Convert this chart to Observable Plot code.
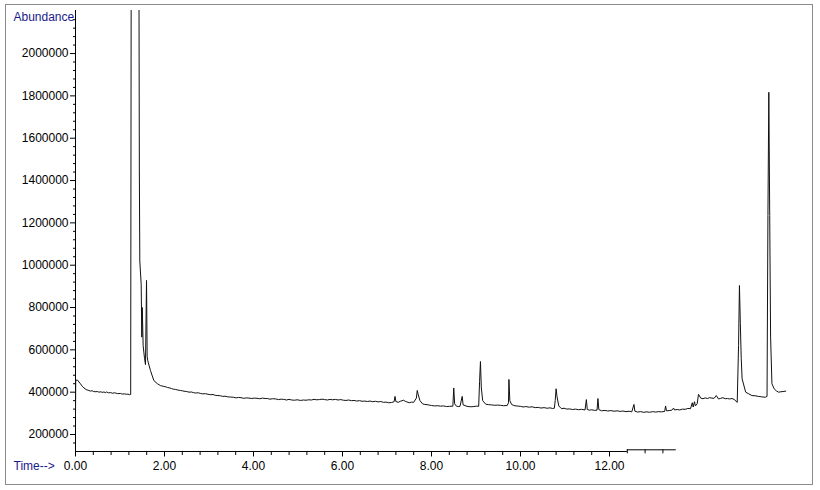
<!DOCTYPE html>
<html><head><meta charset="utf-8">
<script src="https://cdn.jsdelivr.net/npm/d3@7"></script>
<script src="https://cdn.jsdelivr.net/npm/@observablehq/plot@0.6"></script>
<style>
body{margin:0;background:#fff;}
#wrap{position:relative;width:820px;height:490px;overflow:hidden;background:#fff;}
#wrap svg{position:absolute;left:0;top:0;}
#border{position:absolute;left:5px;top:4px;width:806px;height:479px;border:1px solid #8a8a8a;pointer-events:none;}
</style></head><body><div id="wrap"><div id="border"></div></div>
<script>
// [retention time (min), abundance]; off-scale values are clipped at the top
const early = [
  [0.000, 285000], [0.005, 455000], [0.04, 458000], [0.08, 448000], [0.11, 440000], [0.15, 428000], [0.19, 420000],
  [0.24, 412000], [0.30, 408000], [0.34, 405000], [0.37, 407000], [0.40, 404000], [0.44, 402000], [0.49, 403000],
  [0.53, 400000], [0.57, 402000], [0.60, 399000], [0.64, 401000], [0.67, 398000], [0.70, 401000], [0.74, 397000],
  [0.79, 398000], [0.83, 395000], [0.87, 397000], [0.90, 396000], [0.95, 393000], [1.01, 394000], [1.05, 391000],
  [1.10, 392000], [1.14, 390000], [1.18, 391000], [1.21, 388000], [1.24, 389000]
];
const solvent = [
  [1.255, 3000000], [1.42, 3000000], [1.435, 1450000], [1.445, 1020000], [1.476, 910000], [1.49, 660000],
  [1.50, 800000], [1.52, 620000], [1.551, 560000], [1.573, 530000], [1.596, 928000], [1.61, 570000],
  [1.625, 548000], [1.685, 502000], [1.76, 455000], [1.84, 440000]
];
const baseline = [
  [1.91, 431000], [1.97, 428000], [2.03, 425000], [2.07, 422000], [2.12, 420000], [2.16, 417000], [2.20, 414000],
  [2.25, 413000], [2.30, 410000], [2.36, 408000], [2.41, 406000], [2.46, 404000], [2.50, 403000], [2.55, 400000],
  [2.60, 401000], [2.65, 398000], [2.70, 396000], [2.76, 397000], [2.81, 394000], [2.86, 392000], [2.92, 393000],
  [2.98, 390000], [3.04, 388000], [3.09, 389000], [3.14, 385000], [3.20, 384000], [3.26, 383000], [3.31, 380000],
  [3.36, 381000], [3.42, 378000], [3.48, 377000], [3.55, 376000], [3.61, 373000], [3.66, 375000], [3.72, 374000],
  [3.78, 371000], [3.84, 373000], [3.90, 372000], [3.96, 370000], [4.02, 372000], [4.08, 371000], [4.14, 369000],
  [4.20, 372000], [4.26, 370000], [4.31, 370000], [4.37, 367000], [4.43, 369000], [4.50, 368000], [4.56, 365000],
  [4.62, 367000], [4.68, 366000], [4.74, 363000], [4.80, 366000], [4.86, 363000], [4.92, 362000], [4.98, 364000],
  [5.06, 361000], [5.12, 363000], [5.18, 362000], [5.24, 364000], [5.30, 363000], [5.36, 366000], [5.42, 364000],
  [5.48, 365000], [5.54, 367000], [5.60, 365000], [5.66, 363000], [5.72, 366000], [5.78, 364000], [5.84, 366000],
  [5.90, 363000], [5.96, 365000], [6.02, 362000], [6.08, 361000], [6.14, 363000], [6.20, 360000], [6.26, 361000],
  [6.32, 358000], [6.38, 360000], [6.44, 357000], [6.50, 358000], [6.56, 356000], [6.62, 358000], [6.68, 355000],
  [6.74, 357000], [6.80, 354000], [6.86, 356000], [6.92, 352000], [6.98, 353000], [7.04, 350000], [7.10, 351000]
];
const middle = [
  [7.16, 355000], [7.18, 380000], [7.20, 356000], [7.25, 352000], [7.30, 357000], [7.37, 362000], [7.42, 356000],
  [7.50, 350000], [7.55, 353000], [7.60, 352000], [7.66, 372000], [7.68, 408000], [7.70, 390000], [7.74, 360000],
  [7.80, 345000], [7.85, 342000], [7.90, 341000], [7.95, 339000], [8.00, 337000], [8.07, 335000], [8.14, 336000],
  [8.20, 334000], [8.27, 335000], [8.34, 332000], [8.40, 333000], [8.48, 334000], [8.50, 420000], [8.52, 345000],
  [8.56, 334000], [8.60, 332000], [8.64, 333000], [8.69, 380000], [8.71, 340000], [8.80, 333000], [8.87, 331000],
  [8.95, 332000], [9.01, 334000], [9.06, 333000], [9.08, 450000], [9.10, 545000], [9.12, 420000], [9.15, 360000],
  [9.22, 343000], [9.28, 341000], [9.35, 340000], [9.42, 338000], [9.48, 339000], [9.55, 338000], [9.62, 336000],
  [9.70, 337000], [9.73, 350000], [9.74, 460000], [9.76, 360000], [9.80, 342000], [9.85, 337000], [9.90, 335000],
  [9.95, 334000]
];
const late = [
  [10.00, 333000], [10.06, 330000], [10.12, 332000], [10.20, 329000], [10.26, 331000], [10.33, 327000],
  [10.40, 328000], [10.46, 325000], [10.53, 327000], [10.60, 324000], [10.66, 326000], [10.72, 323000],
  [10.76, 324000], [10.78, 360000], [10.80, 416000], [10.82, 380000], [10.86, 335000], [10.92, 322000],
  [10.98, 324000], [11.04, 320000], [11.10, 321000], [11.17, 318000], [11.24, 320000], [11.30, 317000],
  [11.37, 319000], [11.45, 316000], [11.48, 365000], [11.50, 318000], [11.55, 315000], [11.60, 317000],
  [11.66, 314000], [11.72, 315000], [11.74, 370000], [11.76, 318000], [11.82, 312000], [11.90, 314000],
  [11.96, 311000], [12.03, 313000], [12.10, 310000], [12.17, 312000], [12.24, 309000], [12.30, 311000],
  [12.37, 308000], [12.44, 310000], [12.50, 307000], [12.55, 342000], [12.57, 310000], [12.63, 306000],
  [12.70, 308000], [12.77, 305000], [12.84, 307000], [12.90, 305000], [12.97, 308000], [13.04, 306000],
  [13.10, 308000], [13.17, 307000], [13.24, 309000], [13.26, 335000], [13.28, 312000], [13.34, 313000],
  [13.40, 315000], [13.44, 325000], [13.46, 316000], [13.52, 318000], [13.58, 316000], [13.64, 320000],
  [13.70, 319000], [13.76, 323000], [13.82, 322000], [13.86, 350000], [13.88, 330000], [13.91, 355000],
  [13.93, 335000], [13.97, 345000], [14.00, 390000]
];
const final = [
  [14.05, 372000], [14.10, 369000], [14.15, 373000], [14.20, 370000], [14.25, 374000], [14.30, 372000],
  [14.35, 371000], [14.40, 384000], [14.45, 368000], [14.50, 371000], [14.55, 374000], [14.60, 369000],
  [14.65, 370000], [14.70, 368000], [14.75, 370000], [14.80, 366000], [14.87, 352000], [14.90, 620000],
  [14.92, 904000], [14.94, 724000], [14.96, 560000], [14.98, 463000], [15.06, 400000], [15.13, 392000],
  [15.20, 384000], [15.27, 383000], [15.35, 380000], [15.42, 378000], [15.50, 376000], [15.54, 380000],
  [15.56, 1235000], [15.58, 1817000], [15.60, 1235000], [15.62, 660000], [15.65, 440000], [15.70, 416000],
  [15.75, 406000], [15.80, 400000], [15.85, 402000], [15.90, 403000], [15.96, 405000]
];
const data = [...early, ...solvent, ...baseline, ...middle, ...late, ...final].map(([t, a]) => ({t, a}));

const yMajor = [200000, 400000, 600000, 800000, 1000000, 1200000, 1400000, 1600000, 1800000, 2000000];
const yMinor = d3.range(160000, 2200001, 40000).filter(v => v % 200000 !== 0);
const xMajor = [0, 2, 4, 6, 8, 10, 12];
const xMinor = d3.range(0, 13.21, 0.4).filter(v => Math.abs(v / 2 - Math.round(v / 2)) > 1e-6);
const yTitle = "Abundance";
const xTitle = "Time-->";

const font = "'Liberation Sans', Arial, sans-serif";
const PX = 4725;                 // abundance units per pixel
const Y0 = 119700;               // level of the time axis line
const YBOT = Y0 - 9 * PX;        // frame extends below the axis so the ticks lie inside it
const YTOP = 2203400;
const Y1 = Y0 + 1.7 * PX;        // raised axis segment after 12.4 min

const chart = Plot.plot({
  width: 820,
  height: 490,
  marginLeft: 75,
  marginRight: 20,
  marginTop: 10,
  marginBottom: 30,
  style: {fontFamily: font, fontSize: "12px"},
  x: {domain: [0, 16.292]},
  y: {domain: [YBOT, YTOP]},
  marks: [
    Plot.axisY({ticks: yMajor, tickSize: 5, tickPadding: 2, tickFormat: d => String(d), label: null, fontSize: 12, stroke: "#000", fill: "#000"}),
    Plot.axisY({ticks: yMinor, tickSize: 2, tickFormat: () => "", label: null, stroke: "#000"}),
    Plot.axisX({ticks: [], label: null}),
    Plot.ruleX([0], {y1: Y0, y2: YTOP, stroke: "#000"}),
    Plot.ruleY([Y0], {x1: 0, x2: 12.4, stroke: "#000"}),
    Plot.ruleY([Y1], {x1: 12.4, x2: 13.5, stroke: "#000"}),
    Plot.ruleX(xMajor, {y1: Y0, y2: Y0 - 5.5 * PX, stroke: "#000"}),
    Plot.ruleX(xMinor.filter(d => d < 12.3), {y1: Y0, y2: Y0 - 4 * PX, stroke: "#000"}),
    Plot.ruleX(xMinor.filter(d => d > 12.3), {y1: Y1, y2: Y1 - 4 * PX, stroke: "#000"}),
    Plot.text(xMajor, {x: d => d, y: Y0 - 15 * PX, text: d3.format(".2f"), fill: "#000", fontSize: 12}),
    Plot.line(data, {x: "t", y: "a", stroke: "#111", strokeWidth: 1, clip: true}),
    Plot.text([yTitle], {frameAnchor: "top-left", dx: -62, dy: 2, textAnchor: "start", fill: "#1a1a8c", fontSize: 12}),
    Plot.text([xTitle], {x: 0, y: Y0 - 15 * PX, dx: -62, textAnchor: "start", fill: "#1a1a8c", fontSize: 12})
  ]
});
document.getElementById("wrap").prepend(chart);
</script>
</body></html>
